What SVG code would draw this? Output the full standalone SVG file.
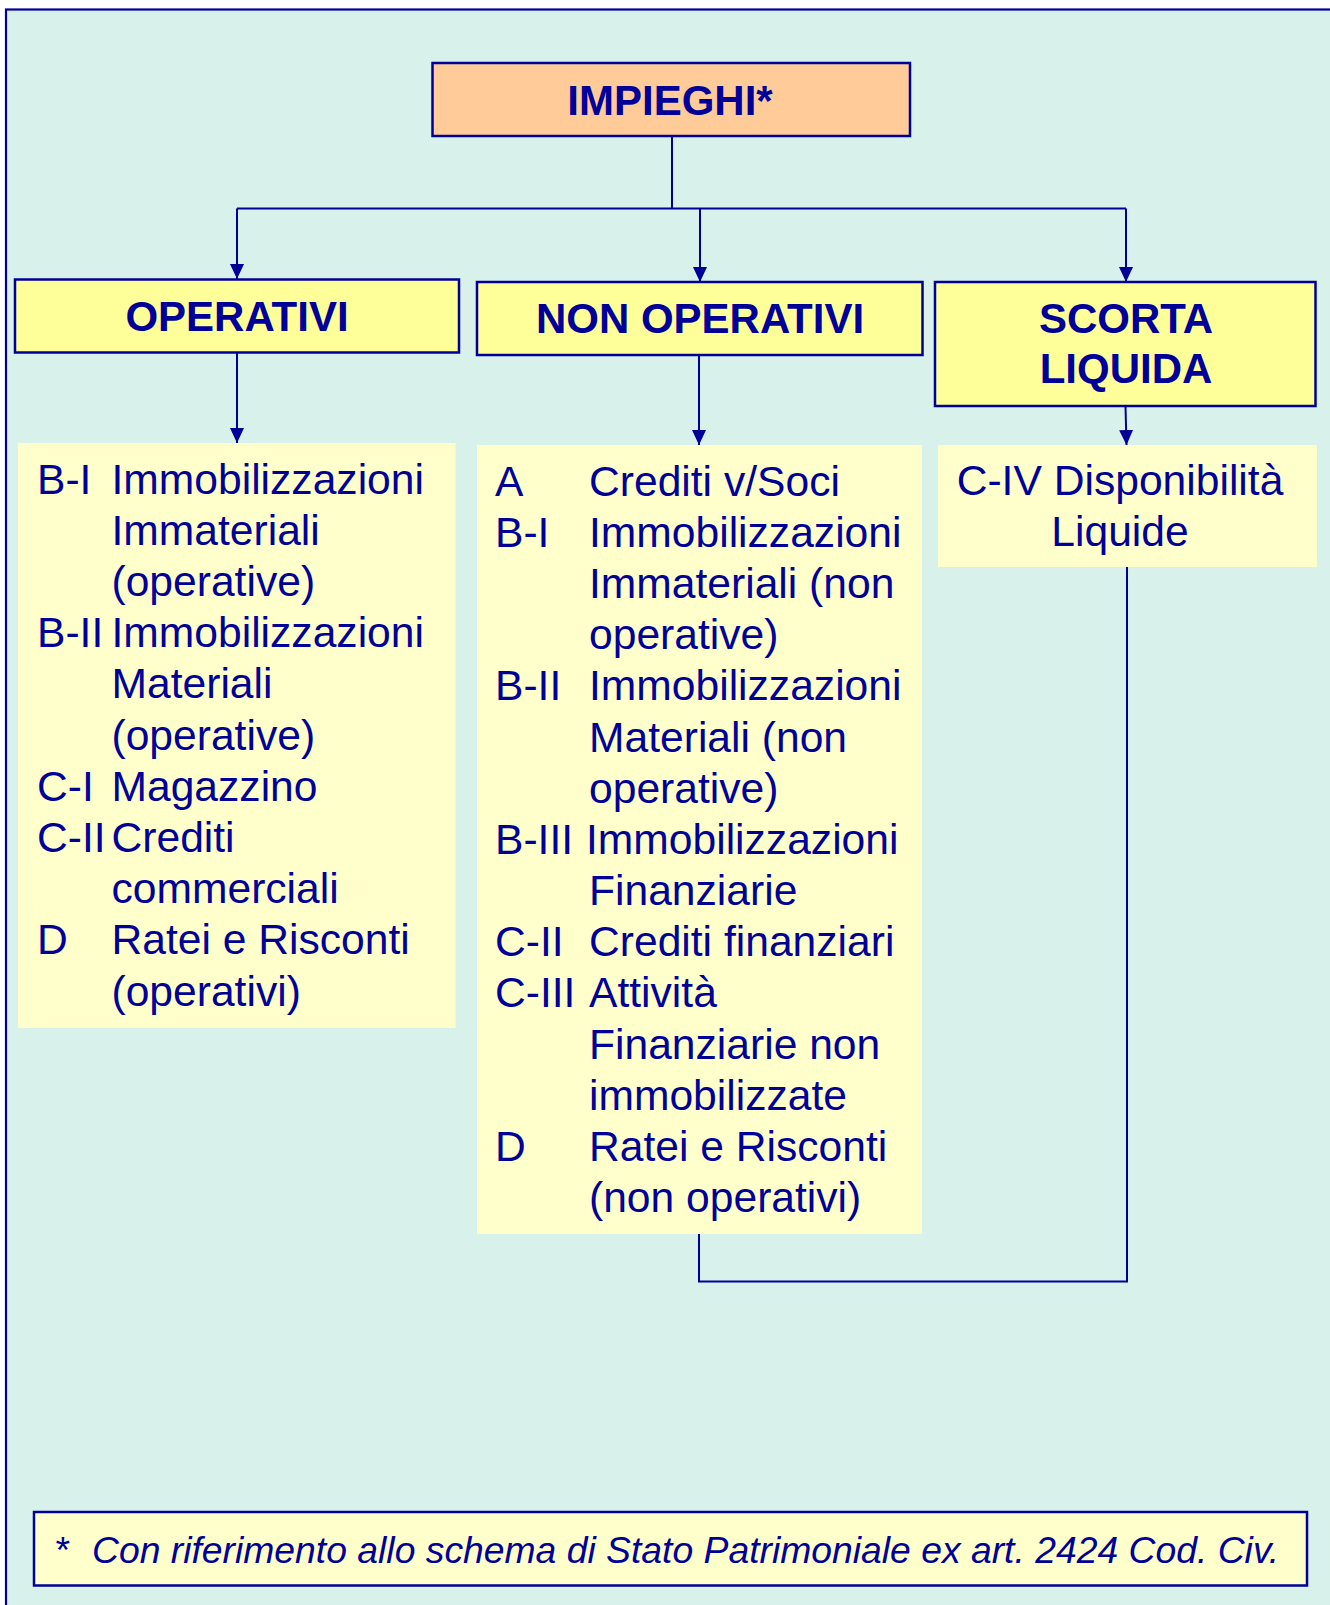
<svg xmlns="http://www.w3.org/2000/svg" width="1330" height="1605" viewBox="0 0 1330 1605">
  <style>
    .box { stroke: #000099; stroke-width: 2.5; }
    .head { font-family: "Liberation Sans", Arial, sans-serif; font-weight: bold; font-size: 42px; fill: #000099; text-anchor: middle; }
    .item { font-family: "Liberation Sans", Arial, sans-serif; font-size: 42.6px; fill: #000099; }
    .note { font-family: "Liberation Sans", Arial, sans-serif; font-style: italic; font-size: 37.3px; fill: #000099; }
    .wire { fill: none; stroke: #000099; stroke-width: 2; }
  </style>
  <defs>
    <marker id="arrow" markerUnits="userSpaceOnUse" markerWidth="15" markerHeight="14" refX="15" refY="7" orient="auto">
      <path d="M0,0 L15,7 L0,14 z" fill="#000099"/>
    </marker>
  </defs>

  <!-- page -->
  <rect x="0" y="0" width="1330" height="1605" fill="#ffffff"/>
  <rect x="6" y="9.5" width="1340" height="1610" fill="#D8F1EA" stroke="#000099" stroke-width="2.2"/>

  <!-- connectors -->
  <g id="connectors">
    <path class="wire" d="M672,136 V208.5"/>
    <path class="wire" d="M237,208.5 H1126"/>
    <path class="wire" d="M237,208.5 V279" marker-end="url(#arrow)"/>
    <path class="wire" d="M700,208.5 V282" marker-end="url(#arrow)"/>
    <path class="wire" d="M1126,208.5 V282" marker-end="url(#arrow)"/>
    <path class="wire" d="M237,353 V443" marker-end="url(#arrow)"/>
    <path class="wire" d="M699,355 V445" marker-end="url(#arrow)"/>
    <path class="wire" d="M1125.5,406 L1126.5,445" marker-end="url(#arrow)"/>
    <path class="wire" d="M699,1234 V1281.5 H1127 V567"/>
  </g>

  <!-- root -->
  <g id="impieghi">
    <rect class="box" x="432.5" y="63" width="477.5" height="73" fill="#FFCC99"/>
    <text class="head" x="670" y="115">IMPIEGHI*</text>
  </g>

  <!-- categories -->
  <g id="operativi">
    <rect class="box" x="15" y="279.5" width="444" height="73" fill="#FFFF99"/>
    <text class="head" x="237" y="331">OPERATIVI</text>
  </g>
  <g id="non-operativi">
    <rect class="box" x="477" y="282" width="445.5" height="73" fill="#FFFF99"/>
    <text class="head" x="700" y="333">NON OPERATIVI</text>
  </g>
  <g id="scorta-liquida">
    <rect class="box" x="935" y="282" width="380.5" height="124" fill="#FFFF99"/>
    <text class="head" x="1126" y="333">SCORTA</text>
    <text class="head" x="1126" y="383">LIQUIDA</text>
  </g>

  <!-- balance sheet items: operating -->
  <g id="voci-operative">
    <rect x="18" y="443" width="437.5" height="585" fill="#FFFFCC"/>
    <text class="item" x="37" y="493.5">B-I</text>
    <text class="item" x="111.5" y="493.5">Immobilizzazioni</text>
    <text class="item" x="111.5" y="544.7">Immateriali</text>
    <text class="item" x="111.5" y="595.9">(operative)</text>
    <text class="item" x="37" y="647.1">B-II</text>
    <text class="item" x="111.5" y="647.1">Immobilizzazioni</text>
    <text class="item" x="111.5" y="698.3">Materiali</text>
    <text class="item" x="111.5" y="749.5">(operative)</text>
    <text class="item" x="37" y="800.7">C-I</text>
    <text class="item" x="111.5" y="800.7">Magazzino</text>
    <text class="item" x="37" y="851.9">C-II</text>
    <text class="item" x="111.5" y="851.9">Crediti</text>
    <text class="item" x="111.5" y="903.1">commerciali</text>
    <text class="item" x="37" y="954.3">D</text>
    <text class="item" x="111.5" y="954.3">Ratei e Risconti</text>
    <text class="item" x="111.5" y="1005.5">(operativi)</text>
  </g>

  <!-- balance sheet items: non-operating -->
  <g id="voci-non-operative">
    <rect x="477" y="445" width="445" height="789" fill="#FFFFCC"/>
    <text class="item" x="495" y="495.8">A</text>
    <text class="item" x="589" y="495.8">Crediti v/Soci</text>
    <text class="item" x="495" y="547">B-I</text>
    <text class="item" x="589" y="547">Immobilizzazioni</text>
    <text class="item" x="589" y="598.1">Immateriali (non</text>
    <text class="item" x="589" y="649.3">operative)</text>
    <text class="item" x="495" y="700.4">B-II</text>
    <text class="item" x="589" y="700.4">Immobilizzazioni</text>
    <text class="item" x="589" y="751.6">Materiali (non</text>
    <text class="item" x="589" y="802.7">operative)</text>
    <text class="item" x="495" y="853.9">B-III</text>
    <text class="item" x="586" y="853.9">Immobilizzazioni</text>
    <text class="item" x="589" y="905">Finanziarie</text>
    <text class="item" x="495" y="956.2">C-II</text>
    <text class="item" x="589" y="956.2">Crediti finanziari</text>
    <text class="item" x="495" y="1007.3">C-III</text>
    <text class="item" x="589" y="1007.3">Attività</text>
    <text class="item" x="589" y="1058.5">Finanziarie non</text>
    <text class="item" x="589" y="1109.6">immobilizzate</text>
    <text class="item" x="495" y="1160.8">D</text>
    <text class="item" x="589" y="1160.8">Ratei e Risconti</text>
    <text class="item" x="589" y="1211.9">(non operativi)</text>
  </g>

  <!-- balance sheet items: cash -->
  <g id="voci-liquide">
    <rect x="938" y="445" width="379" height="122" fill="#FFFFCC"/>
    <text class="item" x="1120" y="495" text-anchor="middle">C-IV Disponibilità</text>
    <text class="item" x="1120" y="546" text-anchor="middle">Liquide</text>
  </g>

  <!-- footnote -->
  <g id="nota">
    <rect x="34" y="1512" width="1273" height="73.5" fill="#FFFFCC" stroke="#000099" stroke-width="2.5"/>
    <text class="note" x="54" y="1563" font-style="normal">*</text>
    <text class="note" x="92" y="1563">Con riferimento allo schema di Stato Patrimoniale ex art. 2424 Cod. Civ.</text>
  </g>
</svg>
